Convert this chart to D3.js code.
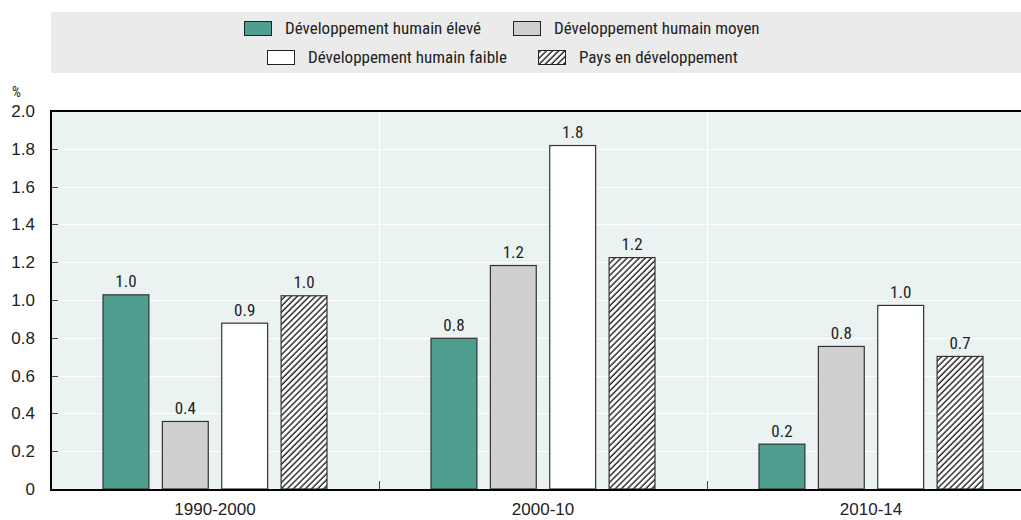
<!DOCTYPE html>
<html><head><meta charset="utf-8">
<script src="https://cdn.jsdelivr.net/npm/d3@7"></script>
<style>
body{margin:0;background:#fff;}
svg{display:block;font-family:"Roboto Condensed","Liberation Sans Narrow","Arial Narrow",sans-serif;font-weight:400;}
</style></head>
<body>
<svg id="c" width="1021" height="520"></svg>
<script>
const categories = ["1990-2000", "2000-10", "2010-14"];
const seriesNames = ["Développement humain élevé", "Développement humain moyen", "Développement humain faible", "Pays en développement"];
const high = [1.03, 0.80, 0.24];
const medium = [0.36, 1.185, 0.757];
const low = [0.88, 1.82, 0.974];
const developing = [1.025, 1.227, 0.704];
const valueLabels = [["1.0","0.8","0.2"],["0.4","1.2","0.8"],["0.9","1.8","1.0"],["1.0","1.2","0.7"]];
const yTicks = [0,0.2,0.4,0.6,0.8,1.0,1.2,1.4,1.6,1.8,2.0];

(function(){
const series = [high, medium, low, developing];
const fills = ["#4E9F8F", "#CFCFCF", "#FFFFFF", "url(#hatch)"];
const FS = 17;

const svg = d3.select("#c");
const W = 1021;
const pLeft = 51, pTop = 111, pBottom = 489, rightExt = 1035;

const defs = svg.append("defs");
const pat = defs.append("pattern").attr("id","hatch").attr("patternUnits","userSpaceOnUse")
  .attr("width",4.3).attr("height",4.3).attr("patternTransform","rotate(45)");
pat.append("rect").attr("width",4.3).attr("height",4.3).attr("fill","#fff");
pat.append("line").attr("x1",1).attr("y1",0).attr("x2",1).attr("y2",4.3).attr("stroke","#111").attr("stroke-width",1.3);

// legend
const lg = svg.append("g");
lg.append("rect").attr("x",51).attr("y",12).attr("width",W-51).attr("height",61).attr("fill","#EBEBEB");
const legPos = [{x:244,y:21},{x:513,y:21},{x:267,y:50},{x:538,y:50}];
seriesNames.forEach((n,i)=>{
  const p = legPos[i];
  lg.append("rect").attr("x",p.x+0.5).attr("y",p.y+0.5).attr("width",27).attr("height",14)
    .attr("fill",fills[i]).attr("stroke","#222").attr("stroke-width",1);
  lg.append("text").attr("x",p.x+41).attr("y",p.y+13).attr("font-size",FS).attr("fill","#222").text(n);
});

const x0 = d3.scaleBand().domain(categories).range([pLeft, rightExt]).paddingInner(0).paddingOuter(0);
const x1 = d3.scaleBand().domain(d3.range(4)).range([51.5, x0.bandwidth()-51.5]).paddingInner(0.21);
const y = d3.scaleLinear().domain([0,2]).range([pBottom, pTop]);

const plot = svg.append("g");
plot.append("rect").attr("x",pLeft).attr("y",pTop).attr("width",W-pLeft).attr("height",pBottom-pTop).attr("fill","#EAF3F2");

plot.selectAll(".grid").data(yTicks.filter(t=>t>0 && t<2)).join("line")
  .attr("x1",pLeft).attr("x2",W).attr("y1",d=>Math.round(y(d))+0.5).attr("y2",d=>Math.round(y(d))+0.5)
  .attr("stroke","#fff").attr("stroke-width",1.2);
const seps = categories.slice(1).map(c=>x0(c));
plot.selectAll(".sep").data(seps).join("line")
  .attr("x1",d=>Math.round(d)+0.5).attr("x2",d=>Math.round(d)+0.5).attr("y1",pTop).attr("y2",pBottom)
  .attr("stroke","#fff").attr("stroke-width",1.2);
plot.selectAll(".septick").data(seps).join("line")
  .attr("x1",d=>Math.round(d)+0.5).attr("x2",d=>Math.round(d)+0.5).attr("y1",pBottom-8).attr("y2",pBottom)
  .attr("stroke","#444").attr("stroke-width",1);

const yAxis = d3.axisLeft(y).tickValues(yTicks).tickSize(0).tickPadding(16)
  .tickFormat(d=> d===0 ? "0" : d3.format(".1f")(d));
const ya = svg.append("g").attr("transform",`translate(${pLeft},0)`).call(yAxis);
ya.select(".domain").remove();
ya.selectAll("text").attr("font-size",FS).attr("fill","#222").attr("font-family","inherit");
plot.selectAll(".yt").data(yTicks.filter(t=>t>0 && t<2)).join("line")
  .attr("x1",pLeft).attr("x2",pLeft+7).attr("y1",d=>Math.round(y(d))+0.5).attr("y2",d=>Math.round(y(d))+0.5)
  .attr("stroke","#444").attr("stroke-width",1);

svg.append("text").attr("x",12).attr("y",97).attr("font-size",14).attr("fill","#222").text("%");

const groups = svg.append("g").selectAll("g").data(categories).join("g")
  .attr("transform",c=>`translate(${x0(c)},0)`);
groups.each(function(c,ci){
  const g = d3.select(this);
  series.forEach((s,si)=>{
    const v = s[ci];
    g.append("rect").attr("x",x1(si)+0.5).attr("y",y(v)+0.5).attr("width",x1.bandwidth()-1)
      .attr("height",pBottom-y(v)-0.5).attr("fill",fills[si]).attr("stroke","#333").attr("stroke-width",1.2);
    g.append("text").attr("x",x1(si)+x1.bandwidth()/2).attr("y",y(v)-7).attr("text-anchor","middle")
      .attr("font-size",FS).attr("fill","#222").text(valueLabels[si][ci]);
  });
});

svg.append("line").attr("x1",pLeft).attr("x2",pLeft).attr("y1",pTop-1).attr("y2",pBottom+1).attr("stroke","#000").attr("stroke-width",2);
svg.append("line").attr("x1",pLeft-1).attr("x2",W).attr("y1",pTop).attr("y2",pTop).attr("stroke","#000").attr("stroke-width",2);
svg.append("line").attr("x1",pLeft-1).attr("x2",W).attr("y1",pBottom+1).attr("y2",pBottom+1).attr("stroke","#000").attr("stroke-width",2);

const xAxis = d3.axisBottom(x0).tickSize(0).tickPadding(14);
const xa = svg.append("g").attr("transform",`translate(0,${pBottom})`).call(xAxis);
xa.select(".domain").remove();
xa.selectAll("text").attr("font-size",FS).attr("fill","#222").attr("font-family","inherit");
})();
</script>
</body></html>
